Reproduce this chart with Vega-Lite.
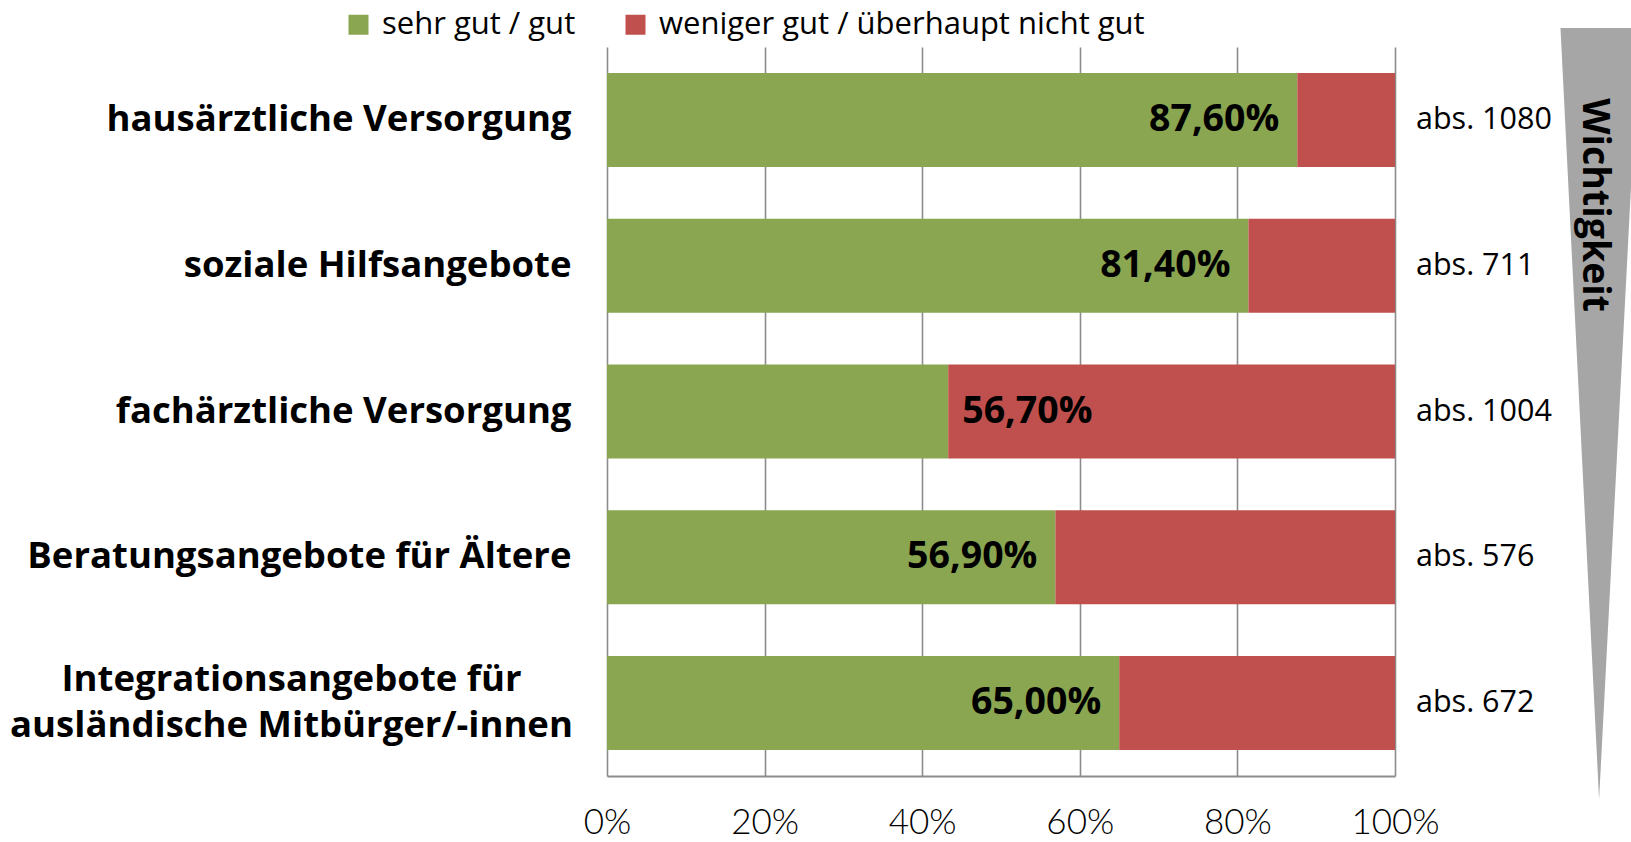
{
  "$schema": "https://vega.github.io/schema/vega-lite/v6.json",
  "width": 788,
  "height": 729,
  "autosize": {"type": "none"},
  "padding": {"left": 607, "top": 47, "right": 236, "bottom": 66},
  "background": "white",
  "config": {"view": {"stroke": null}, "font": "Open Sans"},
  "layer": [
    {
      "data": {
        "values": [
          {"category": "hausärztliche Versorgung", "group": "sehr gut / gut", "order": 1, "value": 87.6, "label": "87,60%", "abs": "abs. 1080"},
          {"category": "hausärztliche Versorgung", "group": "weniger gut / überhaupt nicht gut", "order": 2, "value": 12.4, "label": null, "abs": "abs. 1080"},
          {"category": "soziale Hilfsangebote", "group": "sehr gut / gut", "order": 1, "value": 81.4, "label": "81,40%", "abs": "abs. 711"},
          {"category": "soziale Hilfsangebote", "group": "weniger gut / überhaupt nicht gut", "order": 2, "value": 18.6, "label": null, "abs": "abs. 711"},
          {"category": "fachärztliche Versorgung", "group": "sehr gut / gut", "order": 1, "value": 43.3, "label": null, "abs": "abs. 1004"},
          {"category": "fachärztliche Versorgung", "group": "weniger gut / überhaupt nicht gut", "order": 2, "value": 56.7, "label": "56,70%", "abs": "abs. 1004"},
          {"category": "Beratungsangebote für Ältere", "group": "sehr gut / gut", "order": 1, "value": 56.9, "label": "56,90%", "abs": "abs. 576"},
          {"category": "Beratungsangebote für Ältere", "group": "weniger gut / überhaupt nicht gut", "order": 2, "value": 43.1, "label": null, "abs": "abs. 576"},
          {"category": "Integrationsangebote für ausländische Mitbürger/-innen", "group": "sehr gut / gut", "order": 1, "value": 65.0, "label": "65,00%", "abs": "abs. 672"},
          {"category": "Integrationsangebote für ausländische Mitbürger/-innen", "group": "weniger gut / überhaupt nicht gut", "order": 2, "value": 35.0, "label": null, "abs": "abs. 672"}
        ]
      },
      "transform": [
        {"stack": "value", "groupby": ["category"], "sort": [{"field": "order"}], "as": ["v0", "v1"]}
      ],
      "encoding": {
        "y": {
          "field": "category",
          "type": "nominal",
          "sort": null,
          "scale": {"paddingInner": 0.355, "paddingOuter": 0.178},
          "axis": {
            "title": null,
            "domain": false,
            "ticks": false,
            "labelFont": "Open Sans",
            "labelFontWeight": "bold",
            "labelFontSize": 36.5,
            "labelColor": "black",
            "labelPadding": {"condition": {"test": "indexof(datum.label, 'Integration') == 0", "value": 316}, "value": 36},
            "labelAlign": {"condition": {"test": "indexof(datum.label, 'Integration') == 0", "value": "center"}, "value": "right"},
            "labelOffset": {"condition": {"test": "indexof(datum.label, 'Integration') == 0", "value": -23}, "value": 0},
            "labelLimit": 700,
            "labelLineHeight": 46,
            "labelExpr": "datum.label == 'Integrationsangebote für ausländische Mitbürger/-innen' ? ['Integrationsangebote für', 'ausländische Mitbürger/-innen'] : datum.label"
          }
        }
      },
      "layer": [
        {
          "mark": {"type": "bar"},
          "encoding": {
            "x": {
              "field": "v0",
              "type": "quantitative",
              "scale": {"domain": [0, 100], "nice": false},
              "axis": {
                "title": null,
                "values": [0, 20, 40, 60, 80, 100],
                "labelExpr": "datum.value + '%'",
                "ticks": false,
                "domain": true,
                "domainColor": "#8c8c8c",
                "domainWidth": 2,
                "grid": true,
                "gridColor": "#8c8c8c",
                "gridWidth": 1.6,
                "labelFont": "Lato",
                "labelFontWeight": 300,
                "labelFontSize": 35,
                "labelColor": "black",
                "labelPadding": 29,
                "labelFlush": false
              }
            },
            "x2": {"field": "v1"},
            "color": {
              "field": "group",
              "type": "nominal",
              "scale": {"domain": ["sehr gut / gut", "weniger gut / überhaupt nicht gut"], "range": ["#8aa650", "#c0504d"]},
              "legend": {
                "title": null,
                "orient": "none",
                "direction": "horizontal",
                "legendX": -264,
                "legendY": -38,
                "symbolType": "square",
                "symbolSize": 400,
                "symbolStrokeWidth": 0,
                "labelFont": "Open Sans",
                "labelFontSize": 31,
                "labelColor": "black",
                "labelOffset": 8,
                "columnPadding": 44,
                "labelLimit": 600
              }
            }
          }
        },
        {
          "transform": [{"filter": "datum.label != null && datum.order == 1"}],
          "mark": {"type": "text", "align": "right", "baseline": "middle", "dx": -18, "font": "Open Sans", "fontWeight": "bold", "fontSize": 37.5, "color": "black"},
          "encoding": {
            "x": {"field": "v1", "type": "quantitative"},
            "text": {"field": "label"}
          }
        },
        {
          "transform": [{"filter": "datum.label != null && datum.order == 2"}],
          "mark": {"type": "text", "align": "left", "baseline": "middle", "dx": 14, "font": "Open Sans", "fontWeight": "bold", "fontSize": 37.5, "color": "black"},
          "encoding": {
            "x": {"field": "v0", "type": "quantitative"},
            "text": {"field": "label"}
          }
        },
        {
          "transform": [{"filter": "datum.order == 2"}],
          "mark": {"type": "text", "align": "left", "baseline": "middle", "dx": 21, "font": "Open Sans", "fontSize": 30.5, "color": "black"},
          "encoding": {
            "x": {"field": "v1", "type": "quantitative"},
            "text": {"field": "abs"}
          }
        }
      ]
    },
    {
      "data": {
        "values": [
          {"t": -2.6, "left": 121.0, "right": 131.0},
          {"t": 103.2, "left": 125.9, "right": 125.9}
        ]
      },
      "mark": {"type": "area", "orient": "horizontal", "color": "#a6a6a6", "clip": false},
      "encoding": {
        "y": {"field": "t", "type": "quantitative", "scale": {"domain": [0, 100], "reverse": true, "nice": false, "zero": false}, "axis": null},
        "x": {"field": "left", "type": "quantitative"},
        "x2": {"field": "right"}
      }
    },
    {
      "data": {"values": [{"word": "Wichtigkeit", "pos": 21.7, "xpos": 125.2}]},
      "mark": {"type": "text", "angle": 90, "align": "center", "baseline": "middle", "font": "Open Sans", "fontWeight": "bold", "fontSize": 37.5, "color": "black"},
      "encoding": {
        "y": {"field": "pos", "type": "quantitative", "scale": {"domain": [0, 100], "reverse": true, "nice": false, "zero": false}, "axis": null},
        "x": {"field": "xpos", "type": "quantitative"},
        "text": {"field": "word"}
      }
    }
  ],
  "resolve": {"scale": {"y": "independent"}}
}
